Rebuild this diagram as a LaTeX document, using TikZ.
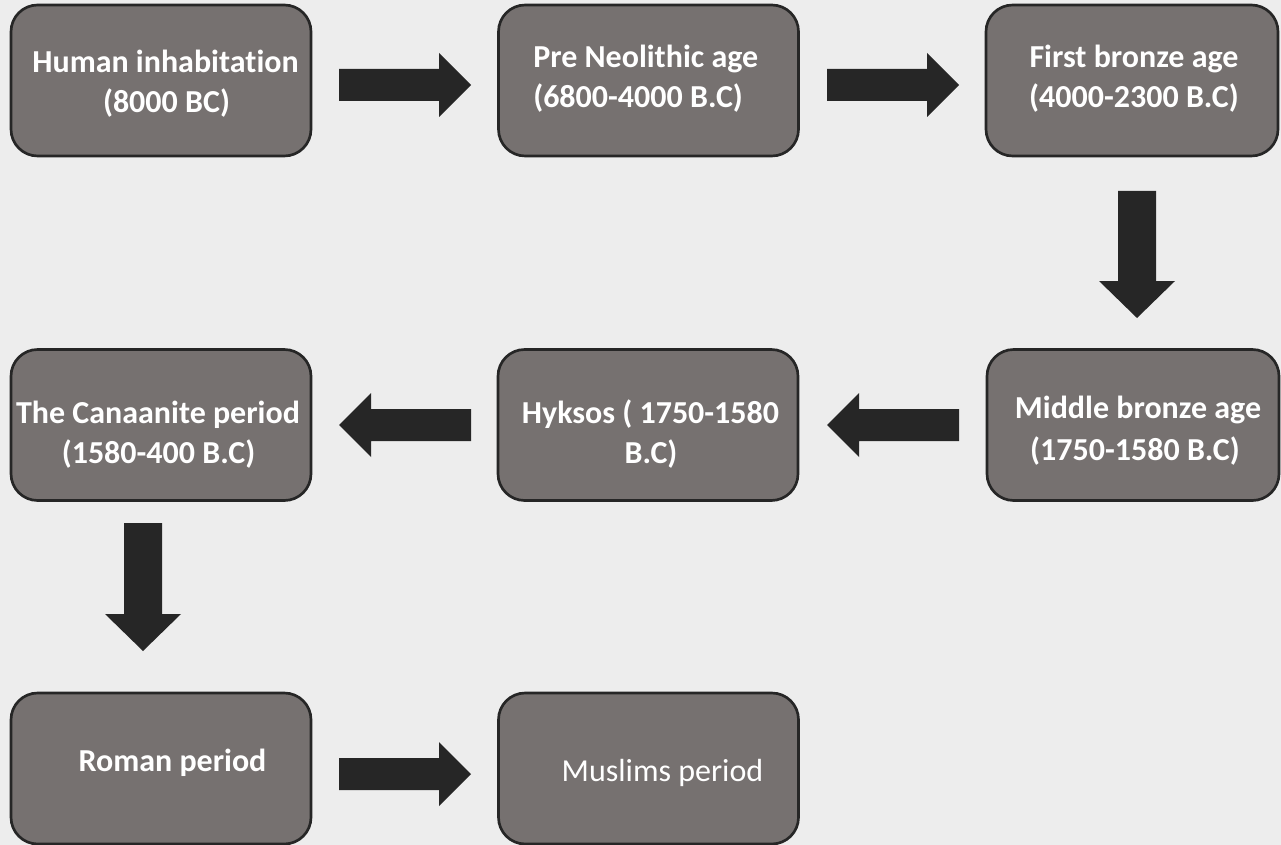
\documentclass[tikz,border=0pt]{standalone}
\usepackage{fontspec}
\setmainfont{Carlito}[Ligatures=NoCommon]
\usetikzlibrary{calc}
\definecolor{bgc}{HTML}{EDEDED}
\definecolor{boxfill}{HTML}{767170}
\definecolor{darkc}{HTML}{262626}
\tikzset{
  box/.style={draw=darkc, line width=2pt, fill=boxfill, rounded corners=20pt,
    minimum width=225pt, minimum height=113.25pt, inner sep=0pt},
  narrowbox/.style={box, minimum width=219pt},
  lbl/.style={text=white, font=\fontsize{24}{30}\selectfont\bfseries, inner sep=0pt, anchor=base},
  lblreg/.style={lbl, font=\fontsize{24}{30}\selectfont},
  hblock/.style={fill=darkc, draw=none, to path={
    ($(\tikztostart)!12pt!90:(\tikztotarget)$)
    -- ($(\tikztotarget)!24pt!(\tikztostart)!12pt!90:(\tikztotarget)$)
    -- ($(\tikztotarget)!24pt!(\tikztostart)!24pt!90:(\tikztotarget)$)
    -- (\tikztotarget)
    -- ($(\tikztotarget)!24pt!(\tikztostart)!24pt!-90:(\tikztotarget)$)
    -- ($(\tikztotarget)!24pt!(\tikztostart)!12pt!-90:(\tikztotarget)$)
    -- ($(\tikztostart)!12pt!-90:(\tikztotarget)$) -- cycle}},
  vblock/.style={fill=darkc, draw=none, to path={
    ($(\tikztostart)!14.25pt!90:(\tikztotarget)$)
    -- ($(\tikztotarget)!27.75pt!(\tikztostart)!14.25pt!90:(\tikztotarget)$)
    -- ($(\tikztotarget)!27.75pt!(\tikztostart)!28.5pt!90:(\tikztotarget)$)
    -- (\tikztotarget)
    -- ($(\tikztotarget)!27.75pt!(\tikztostart)!28.5pt!-90:(\tikztotarget)$)
    -- ($(\tikztotarget)!27.75pt!(\tikztostart)!14.25pt!-90:(\tikztotarget)$)
    -- ($(\tikztostart)!14.25pt!-90:(\tikztotarget)$) -- cycle}}
}
\begin{document}
\begin{tikzpicture}[x=0.75pt, y=-0.75pt]
  \fill[bgc] (0,0) rectangle (1281,845);
  \useasboundingbox (0,0) rectangle (1281,845);

  % boxes
  \node[box] (b1) at (161,80.5) {};
  \node[box] (b2) at (648.5,80.5) {};
  \node[narrowbox] (b3) at (1132,80.5) {};
  \node[box] (b4) at (161,425) {};
  \node[box] (b5) at (648,425) {};
  \node[narrowbox] (b6) at (1133,425) {};
  \node[box] (b7) at (161,768.5) {};
  \node[box] (b8) at (648.5,768.5) {};

  % texts
  \node[lbl] (t1a) at (165.5,73) {Human inhabitation};
  \node[lbl] (t1b) at (166.5,113) {(8000 BC)};
  \node[lbl, anchor=base west] (t2a) at (533,68) {Pre Neolithic age};
  \node[lbl, anchor=base west] (t2b) at (533,108) {(6800-4000 B.C)};
  \node[lbl] (t3a) at (1134,68) {First bronze age};
  \node[lbl] (t3b) at (1134,108) {(4000-2300 B.C)};
  \node[lbl] (t4a) at (158,423) {The Canaanite period};
  \node[lbl] (t4b) at (158.5,463) {(1580-400 B.C)};
  \node[lbl] (t5a) at (650.5,423) {Hyksos ( 1750-1580};
  \node[lbl] (t5b) at (651,463) {B.C)};
  \node[lbl] (t6a) at (1138,418) {Middle bronze age};
  \node[lbl] (t6b) at (1135,460) {(1750-1580 B.C)};
  \node[lbl] (t7) at (172.5,771) {Roman period};
  \node[lblreg] (t8) at (662.5,781) {Muslims period};

  % arrow end points
  \coordinate (a1s) at (339,85);   \coordinate (a1e) at (471,85);
  \coordinate (a2s) at (827,85);   \coordinate (a2e) at (959,85);
  \coordinate (a3s) at (1137,191); \coordinate (a3e) at (1137,318);
  \coordinate (a4s) at (959,425);  \coordinate (a4e) at (827,425);
  \coordinate (a5s) at (471,425);  \coordinate (a5e) at (339,425);
  \coordinate (a6s) at (143,523);  \coordinate (a6e) at (143,651);
  \coordinate (a7s) at (339,774);  \coordinate (a7e) at (471,774);

  \draw[hblock] (a1s) to (a1e);
  \draw[hblock] (a2s) to (a2e);
  \draw[vblock] (a3s) to (a3e);
  \draw[hblock] (a4s) to (a4e);
  \draw[hblock] (a5s) to (a5e);
  \draw[vblock] (a6s) to (a6e);
  \draw[hblock] (a7s) to (a7e);
\end{tikzpicture}
\end{document}
